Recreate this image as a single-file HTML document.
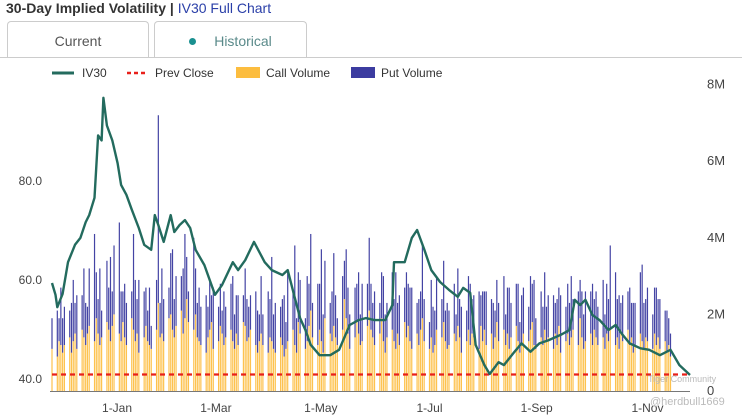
<!DOCTYPE html>
<html><head><meta charset="utf-8">
<style>
body{margin:0;background:#fff;width:742px;height:420px;overflow:hidden;font-family:"Liberation Sans",Arial,sans-serif;}
.title{position:absolute;left:6px;top:0px;font-size:14px;font-weight:bold;color:#333;}
.title a{color:#2a3fa8;font-weight:normal;text-decoration:none;}
.tab{position:absolute;top:21px;height:36px;border:1px solid #ccc;border-bottom:none;border-radius:4px 4px 0 0;box-sizing:border-box;font-size:14px;color:#555;text-align:center;line-height:38px;}
</style></head><body>
<div class="title">30-Day Implied Volatility <span style="color:#333">|</span> <a>IV30 Full Chart</a></div>
<div class="tab" style="left:7px;width:142px;">Current</div>
<div class="tab" style="left:154px;width:153px;color:#5a8a8a;"><span style="display:inline-block;width:7px;height:7px;border-radius:50%;background:#1a9090;margin-right:18px;vertical-align:1px"></span>Historical</div>
<div style="position:absolute;left:0;top:57px;width:742px;height:1px;background:#ccc"></div>
<svg id="chart" width="742" height="420" style="position:absolute;left:0;top:0"></svg>
<script>
const ivDays=[0,2,3,6,9,13,16,19,21,24,26,28,29,31,34,37,39,42,45,49,52,56,58,60,63,67,69,72,75,78,81,86,92,96,102,105,109,114,120,124,130,133,137,140,143,146,151,157,162,168,173,177,182,188,192,193,199,203,206,210,214,219,224,229,232,236,239,244,247,252,255,261,265,270,275,280,287,292,295,298,301,305,309,314,318,322,326,332,337,343,349,354,360];
const ivValues=[59.2,56.8,54.3,57,63.4,66.9,68.3,71.5,72.9,76.4,89,88,96.6,91,88,83.4,79,77,74,70.3,66.9,65.9,72.9,70.9,67.5,72.9,69.5,70.9,71.9,70.3,65.9,62.8,56.8,58.8,63.4,61.8,63.8,67.5,63.4,61.8,60.8,61.8,56.2,52.1,49.7,46.7,44.6,44.6,45.7,50.7,51.7,52.1,51.7,51.7,54.7,63.4,63.4,68.3,69.9,66,61.8,59.4,57.8,56.4,58.2,57.2,46.7,42.6,40.8,43.2,42.6,45.3,47,45.3,47,47.6,48.7,49.7,55.8,54.7,55.8,52.7,51.7,49.7,50.7,48.7,47,46,45.7,44.6,45.7,42.6,40.6];
const prevClose=40.7;
const leftTicks=[40,60,80];
const rightTicks=[0,2,4,6,8];
const xTickDays=[36.7,92.5,151.7,213,273.5,336];
const xTickLabels=["1-Jan","1-Mar","1-May","1-Jul","1-Sep","1-Nov"];
const callVol=[
1.1,0.9,1.3,1.2,1.0, 1.2,1.4,1.0,1.3,1.5, 1.1,1.6,1.4,1.2,1.5, 1.7,1.3,1.9,1.5,1.2,
1.4,1.8,1.6,1.3,1.7, 2.0,1.5,1.3,1.8,1.4, 1.2,1.9,1.6,1.3,1.5, 1.0,1.4,1.7,1.3,1.2,
1.1,1.6,2.3,1.4,1.5, 1.3,1.9,2.0,1.6,1.4, 1.7,2.1,1.5,1.9,2.4, 1.8,1.6,2.0,1.4,1.3,
1.2,1.0,1.4,1.6,1.8, 1.1,1.3,1.7,1.5,1.2, 1.4,1.6,1.3,1.1,1.5, 1.2,1.8,1.7,1.3,1.4,
1.6,1.2,1.0,1.3,1.5, 1.2,1.0,1.4,1.3,1.1, 1.0,1.4,1.2,0.9,1.1, 1.3,1.6,1.2,1.0,1.8,
1.5,1.1,1.3,1.7,2.1, 1.4,1.2,1.6,1.3,1.0, 1.9,1.5,1.3,1.7,1.4, 1.2,1.6,2.4,1.9,1.5,
1.1,1.4,1.8,1.5,1.2, 1.3,1.7,2.1,1.6,1.4, 1.2,1.5,1.9,1.3,1.0, 1.4,1.6,1.3,1.1,1.5,
1.2,1.8,1.4,1.7,1.3, 1.1,1.5,1.2,1.6,1.9, 1.3,1.1,1.4,1.0,1.2, 1.6,1.4,1.8,1.3,1.1,
1.2,1.5,1.3,1.7,1.4, 1.0,1.3,1.6,1.2,1.5, 1.4,1.1,1.7,1.3,1.6, 1.2,1.5,1.1,1.4,1.8,
1.3,1.6,1.2,1.5,1.1, 1.4,1.7,1.3,1.0,1.2, 1.5,1.3,1.6,1.8,1.2, 1.1,1.4,1.2,1.6,1.3,
1.4,1.1,1.5,1.2,1.7, 1.0,1.3,1.5,1.2,1.4, 1.6,1.2,1.9,1.4,1.1, 1.3,1.5,1.2,1.6,1.4,
1.2,1.4,1.1,1.5,1.3, 1.6,1.2,1.4,1.1,1.5, 1.3,1.6,1.2,1.4,1.0, 1.2,1.5,1.3,1.1,1.4,
1.3,1.1,1.5,1.2,1.4, 1.1,1.3,1.0,1.2,0.9];
const putVol=[
0.8,1.2,0.6,1.5,0.9, 1.0,0.7,1.3,1.6,0.8, 1.4,0.9,1.8,1.1,0.7, 1.5,2.8,1.2,0.9,2.0,
0.7,1.6,1.1,2.2,0.9, 1.8,2.9,1.3,0.8,1.4, 1.1,0.7,2.5,1.6,0.9, 1.9,1.2,1.0,0.8,1.5,
0.6,1.3,4.9,0.9,1.7, 1.1,0.8,1.6,2.1,1.0, 1.3,0.9,1.7,2.2,1.1, 0.8,2.4,1.2,0.9,1.4,
1.0,1.5,0.8,1.3,0.7, 1.6,0.9,1.1,0.6,1.4, 0.8,1.2,1.7,0.9,1.0, 1.3,0.7,1.5,1.1,0.8,
0.9,1.4,1.1,0.7,1.5, 0.8,1.6,1.0,2.2,0.9, 1.3,0.8,1.2,1.6,0.7, 1.8,1.0,2.6,0.9,1.3,
1.4,0.8,1.7,1.1,2.0, 0.9,1.6,1.2,2.4,1.0, 1.5,0.8,1.3,1.9,1.1, 0.7,1.4,1.0,1.8,1.2,
0.9,1.3,1.0,1.6,0.8, 1.5,1.1,1.9,1.2,0.9, 1.4,0.8,1.2,1.7,1.0, 0.9,1.5,1.1,2.0,0.8,
1.3,0.9,1.7,1.1,1.4, 1.6,0.8,1.2,1.0,1.9, 1.1,0.7,1.5,1.2,0.9, 1.4,1.0,1.6,0.8,1.2,
0.9,1.3,0.7,1.5,1.0, 1.2,0.8,1.4,1.6,0.9, 1.1,1.5,0.8,1.3,1.0, 1.4,0.9,1.2,0.7,1.1,
1.0,1.4,0.8,1.2,1.6, 0.9,1.1,1.5,0.8,1.3, 1.2,0.9,1.4,1.0,1.7, 0.8,1.2,1.0,1.5,0.9,
1.1,1.4,0.8,1.2,1.0, 1.5,0.9,1.3,1.1,1.6, 0.8,1.4,1.0,1.2,0.9, 1.3,1.1,1.6,0.8,1.2,
1.0,1.5,0.9,1.3,1.1, 2.2,1.9,1.0,1.4,0.8, 1.2,1.0,1.5,0.9,1.3, 1.1,1.6,2.0,1.2,1.0,
1.4,0.9,1.2,1.5,1.0, 1.3,0.8,1.1,0.7,0.6];
const NS="http://www.w3.org/2000/svg";
const svg=document.getElementById('chart');
const X0=52,X1=690,DMAX=360;
function xScale(d){return X0+d*(X1-X0)/DMAX;}
function yIV(v){return 378-(v-40)*4.95;}
function yVol(m){return 391-m*38.3;}
function mk(t,a){const e=document.createElementNS(NS,t);for(const k in a)e.setAttribute(k,a[k]);svg.appendChild(e);return e;}
let idx=0;
for(let d=0;d<=DMAX&&idx<callVol.length;d++){
  const wd=(d+5)%7; if(wd===0||wd===6)continue;
  const x=xScale(d);
  const c=mk('rect',{x:x-0.6,y:yVol(callVol[idx]),width:1.2,height:callVol[idx]*38.3,fill:'#fdc24e'});
  
  
  const p=mk('rect',{x:x-0.6,y:yVol(callVol[idx]+putVol[idx]),width:1.2,height:putVol[idx]*38.3,fill:'#4444a4'});
  
  
  idx++;
}
const pc=mk('line',{x1:X0,x2:X1,y1:yIV(prevClose),y2:yIV(prevClose),stroke:'#e8201a','stroke-width':2.2,'stroke-dasharray':'5,4'});


let dstr=ivDays.map((d,i)=>(i?'L':'M')+xScale(d).toFixed(1)+','+yIV(ivValues[i]).toFixed(1)).join(' ');
const iv=mk('path',{d:dstr,fill:'none',stroke:'#236b5e','stroke-width':2.4,'stroke-linejoin':'round'});


const ax=mk('line',{x1:X0-2,x2:X1,y1:391.5,y2:391.5,stroke:'#777','stroke-width':1});


leftTicks.forEach(v=>{const t=mk('text',{x:42,y:yIV(v)+5,'text-anchor':'end','font-size':12,fill:'#444'});t.textContent=v.toFixed(1);

});
rightTicks.forEach(v=>{const t=mk('text',{x:707,y:yVol(v)+4,'font-size':13,fill:'#444'});t.textContent=v?v+'M':'0';

});
xTickDays.forEach((d,i)=>{const t=mk('text',{x:xScale(d),y:412,'text-anchor':'middle','font-size':12,fill:'#444'});t.textContent=xTickLabels[i];

});
const lg=[['line','#236b5e','IV30',52],['dash','#e8201a','Prev Close',125],['box','#fcbd3f','Call Volume',236],['box','#3c3ca0','Put Volume',351]];
lg.forEach(l=>{
  const g=document.createElementNS(NS,'g');svg.appendChild(g);
  
  
  const x=l[3];
  let s;
  if(l[0]==='line'){s=document.createElementNS(NS,'line');s.setAttribute('x1',x);s.setAttribute('x2',x+22);s.setAttribute('y1',73);s.setAttribute('y2',73);s.setAttribute('stroke',l[1]);s.setAttribute('stroke-width',3);}
  else if(l[0]==='dash'){s=document.createElementNS(NS,'line');s.setAttribute('x1',x+2);s.setAttribute('x2',x+22);s.setAttribute('y1',73);s.setAttribute('y2',73);s.setAttribute('stroke',l[1]);s.setAttribute('stroke-width',2.5);s.setAttribute('stroke-dasharray','4,3');}
  else {s=document.createElementNS(NS,'rect');s.setAttribute('x',x);s.setAttribute('y',67);s.setAttribute('width',24);s.setAttribute('height',11);s.setAttribute('fill',l[1]);}
  g.appendChild(s);
  const t=document.createElementNS(NS,'text');t.setAttribute('x',x+30);t.setAttribute('y',77);t.setAttribute('font-size',12);t.setAttribute('fill','#333');t.textContent=l[2];g.appendChild(t);
});
const wm=mk('text',{x:648,y:382,'font-size':9,fill:'#bbb'});wm.textContent='Tiger Community';


const wm2=mk('text',{x:650,y:405,'font-size':11,fill:'#bbb'});wm2.textContent='@herdbull1669';


</script>
</body></html>
